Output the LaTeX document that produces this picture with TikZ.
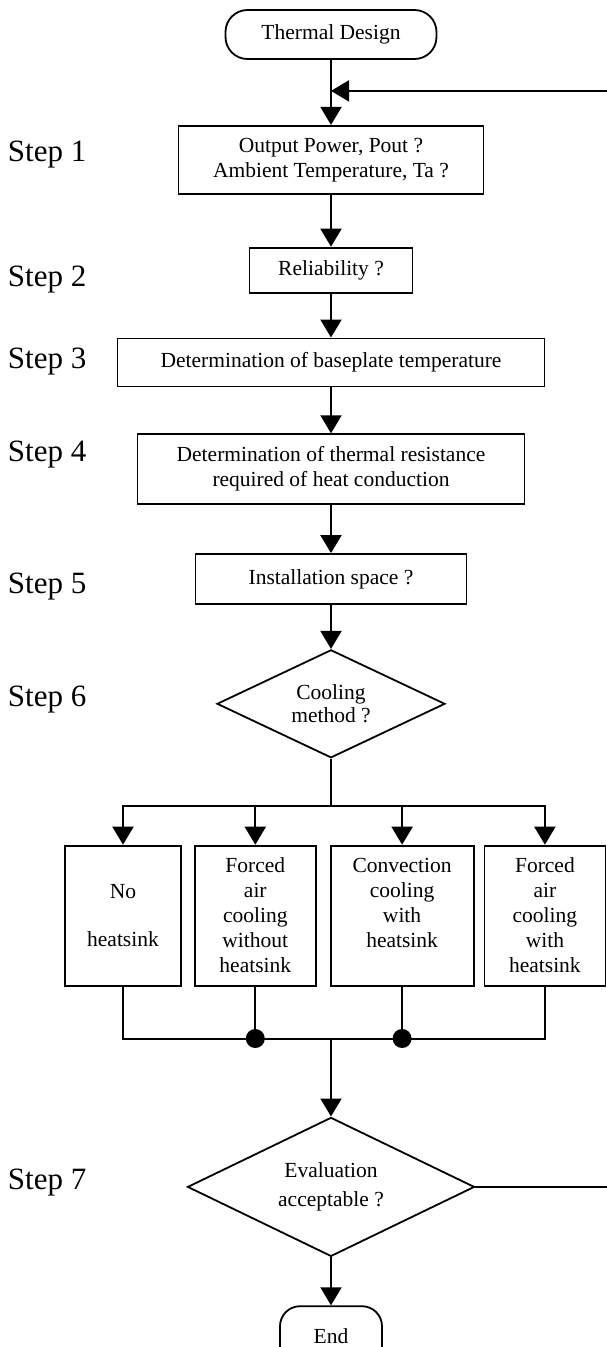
\documentclass[tikz,border=0pt]{standalone}
\usepackage{fontspec}
\setmainfont{Liberation Serif}
\usepackage{tikz}
\usetikzlibrary{shapes.geometric, arrows.meta, positioning, calc}

\begin{document}
\begin{tikzpicture}[x=1pt, y=1pt, line width=2pt,
  >={Triangle[width=21pt,length=18pt]},
  box/.style={draw, line width=1.8pt, align=center, inner sep=2pt, font=\fontsize{21.5}{25}\selectfont},
  termbox/.style={box, rounded corners=22pt},
  choice/.style={box, diamond, aspect=2.1, inner sep=0pt},
  steplbl/.style={anchor=west, inner sep=0pt, font=\fontsize{31}{36}\selectfont},
  flow/.style={->, line width=2pt}]
\useasboundingbox (0,0) rectangle (607,-1347);
\node[termbox, minimum width=211pt, minimum height=49pt] (design) at (331,-34.5) {Thermal Design};
\node[box, minimum width=305pt, minimum height=68pt, below=65pt of design] (power) {Output Power, Pout ?\\Ambient Temperature, Ta ?};
\node[box, minimum width=163pt, minimum height=45pt, below=52pt of power] (reliab) {Reliability ?};
\node[box, minimum width=427pt, minimum height=48pt, below=44pt of reliab] (basetemp) {Determination of baseplate temperature};
\node[box, minimum width=387pt, minimum height=70pt, below=46pt of basetemp] (thres) {Determination of thermal resistance\\required of heat conduction};
\node[box, minimum width=271pt, minimum height=50pt, below=48pt of thres] (space) {Installation space ?};
\node[choice, minimum width=228pt, minimum height=108pt, below=44pt of space, font=\fontsize{21.5}{23}\selectfont] (cooling) {Cooling\\method ?};
% cooling options
\node[box, minimum width=116pt, minimum height=140pt, below=86pt of cooling, xshift=-208pt] (nohs) {No\\[23pt]heatsink};
\node[box, minimum width=121pt, minimum height=140pt, right=12pt of nohs] (fanbare) {Forced\\air\\cooling\\without\\heatsink};
\node[box, minimum width=143pt, minimum height=140pt, right=13pt of fanbare] (convhs) {Convection\\cooling\\with\\heatsink\\\mbox{}};
\node[box, minimum width=121pt, minimum height=140pt, right=9pt of convhs] (fanhs) {Forced\\air\\cooling\\with\\heatsink};
\coordinate (split) at ($(cooling.south)+(0,-47pt)$);
\coordinate (merge) at ($(cooling.south |- nohs.south)+(0,-52pt)$);
\node[choice, minimum width=287pt, minimum height=139pt, below=78pt of merge, font=\fontsize{21.5}{29}\selectfont] (evalok) {Evaluation\\acceptable ?};
\node[termbox, minimum width=102pt, minimum height=60pt, rounded corners=20pt, below=48pt of evalok] (finish) {End};
% step labels
\foreach \n/\y in {1/155, 2/280, 3/362, 4/455, 5/587, 6/700, 7/1183}
  \node[steplbl] (lbl\n) at (7,-\y) {Step \n};
% connectors
\coordinate (loopin) at ($(design.south)!0.477!(power.north)$);
\coordinate (redge) at (610,0);
\draw[flow] (design.south) -- (power.north);
\draw[flow] (power.south) -- (reliab.north);
\draw[flow] (reliab.south) -- (basetemp.north);
\draw[flow] (basetemp.south) -- (thres.north);
\draw[flow] (thres.south) -- (space.north);
\draw[flow] (space.south) -- (cooling.north);
\draw (cooling.south) -- (split);
\foreach \b in {nohs, fanbare, convhs, fanhs}
  \draw[flow] (split) -| (\b.north);
\draw (nohs.south) |- (merge) -| (fanhs.south);
\draw (fanbare.south) -- (fanbare.south |- merge);
\draw (convhs.south) -- (convhs.south |- merge);
\fill (fanbare.south |- merge) circle (9.5pt);
\fill (convhs.south |- merge) circle (9.5pt);
\draw[flow] (merge) -- (evalok.north);
\draw[flow] (evalok.south) -- (finish.north);
\draw (evalok.east) -- (evalok.east -| redge);
\draw[flow] (loopin -| redge) -- (loopin);
\end{tikzpicture}
\end{document}
